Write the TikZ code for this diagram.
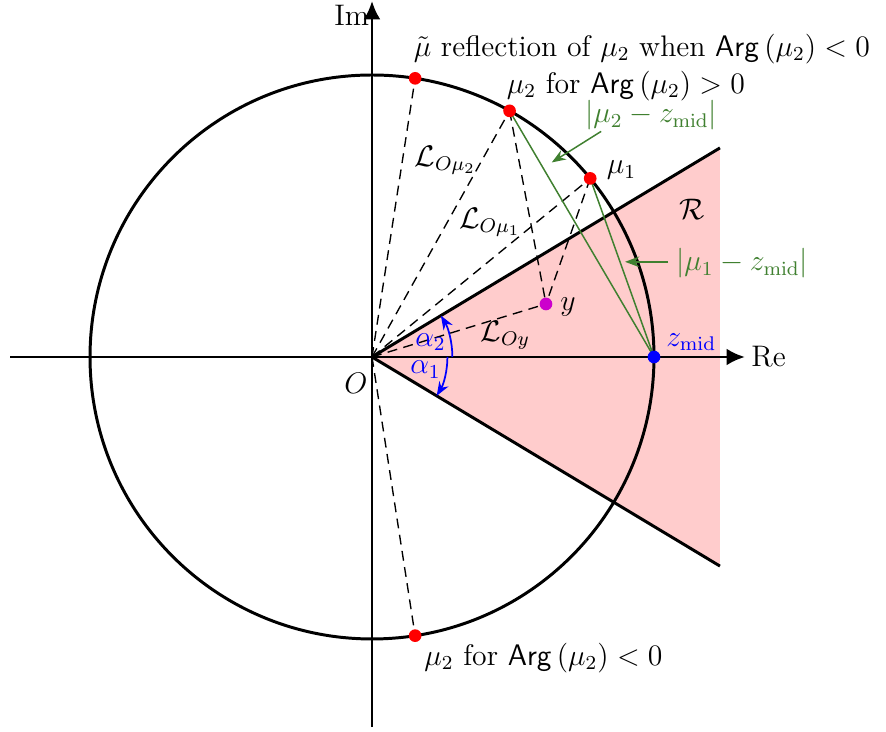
\documentclass[tikz,border=0pt]{standalone}
\usetikzlibrary{arrows.meta}
\definecolor{mygreen}{RGB}{64,128,48}
\definecolor{mymag}{RGB}{204,0,204}
\definecolor{mypink}{RGB}{255,204,204}
\begin{document}
\begin{tikzpicture}[
  font=\fontsize{12}{14}\selectfont,
  axis/.style={line width=1.2pt,-{Latex[length=2.6mm,width=2.4mm]}},
  bold/.style={line width=1.2pt},
  dline/.style={line width=0.55pt,dash pattern=on 4pt off 2.6pt},
  gline/.style={mygreen,line width=0.6pt},
  garrow/.style={mygreen,line width=0.6pt,-{Stealth[length=2mm]}},
  barc/.style={blue,line width=0.7pt,-{Stealth[length=2mm]}},
  dot/.style={circle,inner sep=0pt,minimum size=0.18cm},
  lbl/.style={inner sep=1pt}
]
\useasboundingbox (-5.277,-5.319) rectangle (7.291,5.064);
\coordinate (O) at (0,0);
\coordinate (wu) at (4.936,2.966);
\coordinate (wl) at (4.936,-2.966);
\coordinate (xl) at (-5.135,0);
\coordinate (xr) at (5.29,0);
\coordinate (yb) at (0,-5.25);
\coordinate (yt) at (0,5.05);
% region
\fill[mypink] (O) -- (wu) -- (wl) -- cycle;
% circle
\draw[bold] (O) circle (4);
% axes
\draw[axis] (xl) -- (xr) node[right,inner sep=2pt] (Re) {Re};
\draw[axis] (yb) -- (yt);
\node[left,inner sep=1pt] (Im) at (0,4.85) {Im};
% wedge
\draw[bold] (O) -- (wu);
\draw[bold] (O) -- (wl);
% points
\coordinate (mut) at (81.2:4);
\coordinate (mu2) at (60.8:4);
\coordinate (mu1) at (39.3:4);
\coordinate (mul) at (-81.2:4);
\coordinate (y) at (2.468,0.752);
\coordinate (z) at (4,0);
% dashed
\draw[dline] (O) -- (mut);
\draw[dline] (O) -- (mu2);
\draw[dline] (O) -- (mu1);
\draw[dline] (O) -- (y);
\draw[dline] (O) -- (mul);
\draw[dline] (mu2) -- (y);
\draw[dline] (mu1) -- (y);
% green
\draw[gline] (mu2) -- (z);
\draw[gline] (mu1) -- (z);
% angle arcs
\draw[barc] (1.14,0) arc[start angle=0,end angle=31,radius=1.14];
\draw[barc] (1.07,0) arc[start angle=0,end angle=-31,radius=1.07];
\node[blue,lbl] (a2) at (0.83,0.21) {$\alpha_2$};
\node[blue,lbl] (a1) at (0.76,-0.18) {$\alpha_1$};
% dots
\node[dot,fill=red] (Pmut) at (mut) {};
\node[dot,fill=red] (Pmu2) at (mu2) {};
\node[dot,fill=red] (Pmu1) at (mu1) {};
\node[dot,fill=red] (Pmul) at (mul) {};
\node[dot,fill=mymag] (Py) at (y) {};
\node[dot,fill=blue] (Pz) at (z) {};
% labels
\node[lbl,anchor=west] (tmut) at (0.55,4.37) {$\tilde{\mu}$ reflection of $\mu_2$ when $\mathsf{Arg}\left(\mu_2\right)<0$};
\node[lbl,anchor=west] (tmu2) at (1.87,3.85) {$\mu_2$ for $\mathsf{Arg}\left(\mu_2\right)>0$};
\node[lbl,anchor=west] (tmul) at (0.70,-4.27) {$\mu_2$ for $\mathsf{Arg}\left(\mu_2\right)<0$};
\node[lbl] (tmu1) at (3.54,2.65) {$\mu_1$};
\node[lbl] (tR) at (4.54,2.09) {$\mathcal{R}$};
\node[lbl] (ty) at (2.78,0.71) {$y$};
\node[lbl,blue] (tz) at (4.53,0.21) {$z_{\mathrm{mid}}$};
\node[lbl] (tO) at (-0.23,-0.37) {$O$};
\node[lbl] (tLy) at (1.89,0.31) {$\mathcal{L}_{Oy}$};
\node[lbl] (tL1) at (1.67,1.91) {$\mathcal{L}_{O\mu_1}$};
\node[lbl] (tL2) at (1.04,2.79) {$\mathcal{L}_{O\mu_2}$};
\node[lbl,mygreen] (td2) at (3.96,3.43) {$\left|\mu_2-z_{\mathrm{mid}}\right|$};
\node[lbl,mygreen] (td1) at (5.25,1.33) {$\left|\mu_1-z_{\mathrm{mid}}\right|$};
\coordinate (s2) at (3.25,3.20);
\coordinate (e2) at (2.55,2.76);
\coordinate (s1) at (4.20,1.35);
\coordinate (e1) at (3.59,1.35);
\draw[garrow] (s2) -- (e2);
\draw[garrow] (s1) -- (e1);
\end{tikzpicture}
\end{document}
